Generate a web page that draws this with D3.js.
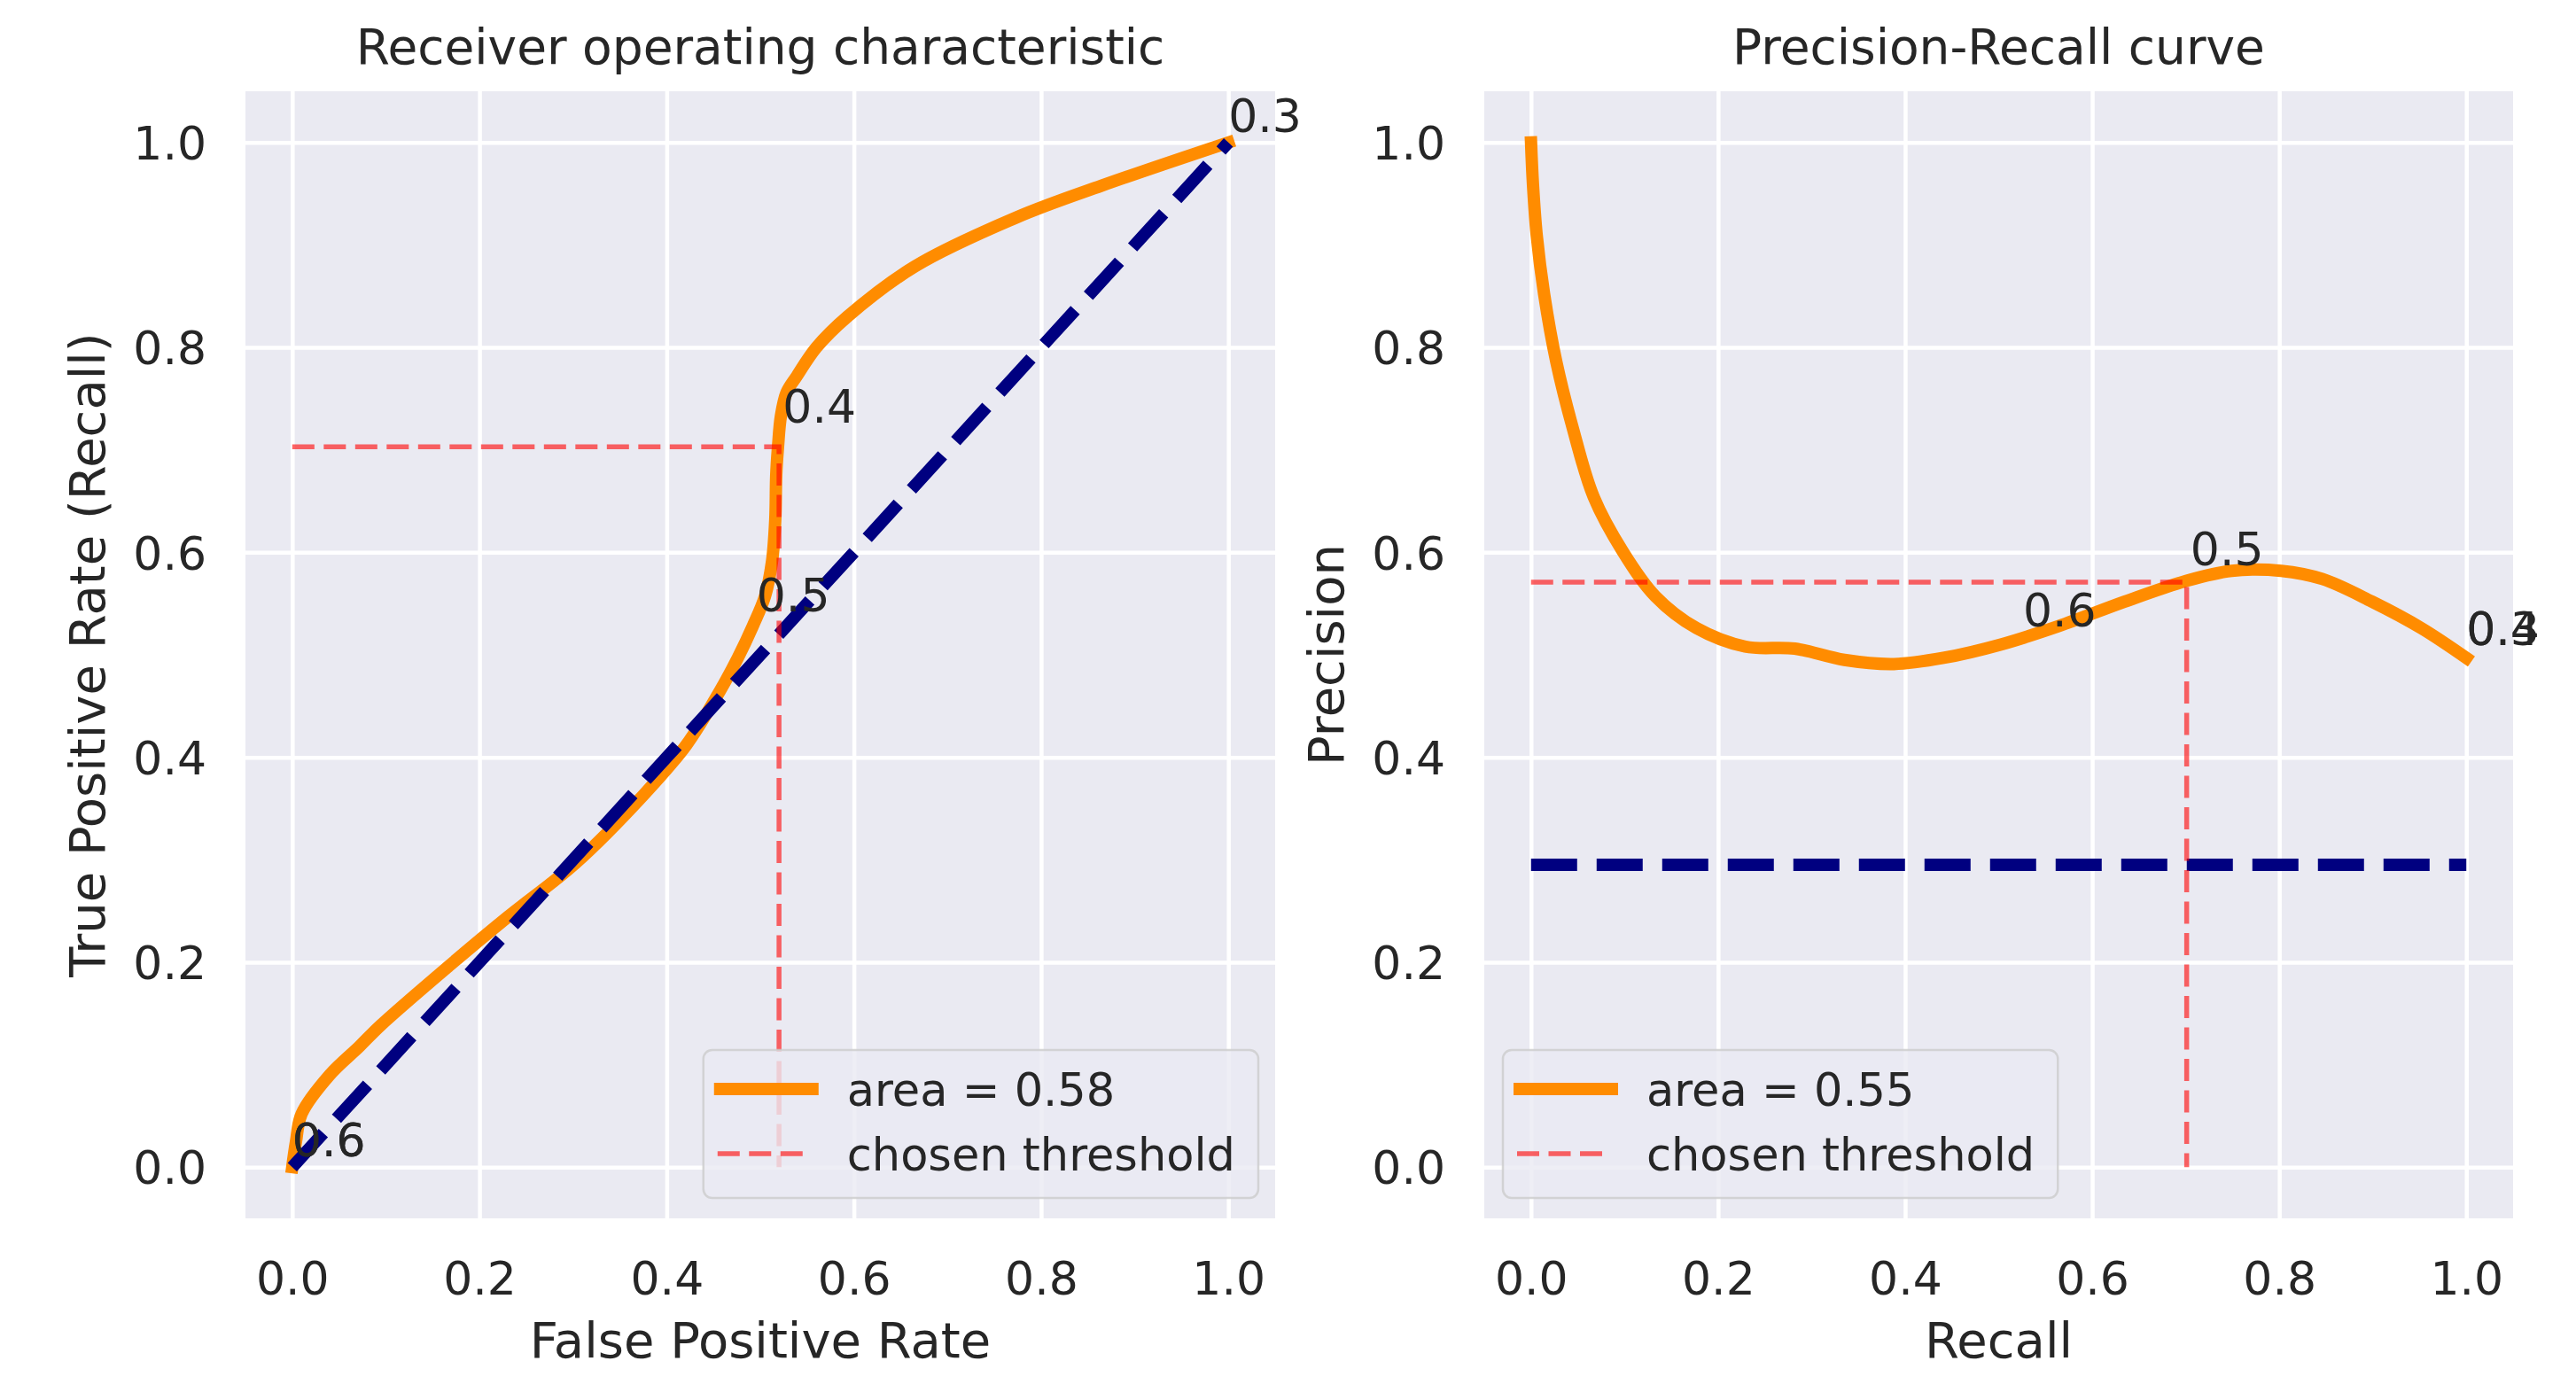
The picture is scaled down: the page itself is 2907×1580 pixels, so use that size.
<!DOCTYPE html>
<html>
<head>
<meta charset="utf-8">
<script src="https://cdn.jsdelivr.net/npm/d3@7"></script>
<style>
  body { margin: 0; background: #ffffff; }
  svg { display: block; }
  text { font-family: "DejaVu Sans", sans-serif; fill: #262626; }
</style>
</head>
<body>
<svg id="chart" width="2907" height="1580"></svg>
<script>
// ---------------- data ----------------
const tickValues = [0.0, 0.2, 0.4, 0.6, 0.8, 1.0];

// ROC curve (False Positive Rate, True Positive Rate)
const rocFpr = [0.000, 0.004, 0.010, 0.040, 0.072, 0.094, 0.167, 0.230, 0.303, 0.375, 0.421, 0.457, 0.476, 0.492, 0.505, 0.5125, 0.516, 0.517, 0.519, 0.522, 0.528, 0.539, 0.560, 0.593, 0.665, 0.774, 0.865, 1.000];
const rocTpr = [0.000, 0.025, 0.052, 0.090, 0.118, 0.138, 0.196, 0.244, 0.297, 0.363, 0.412, 0.465, 0.497, 0.528, 0.557, 0.591, 0.632, 0.675, 0.704, 0.733, 0.756, 0.772, 0.800, 0.830, 0.879, 0.927, 0.958, 1.000];

// Precision-Recall curve
const prRecall    = [0.000, 0.002, 0.006, 0.014, 0.027, 0.045, 0.067, 0.098, 0.133, 0.177, 0.229, 0.282, 0.335, 0.388, 0.441, 0.502, 0.564, 0.635, 0.700, 0.749, 0.802, 0.846, 0.899, 0.952, 1.000];
const prPrecision = [1.000, 0.960, 0.910, 0.852, 0.786, 0.720, 0.654, 0.601, 0.557, 0.526, 0.508, 0.506, 0.495, 0.491, 0.497, 0.510, 0.528, 0.552, 0.572, 0.582, 0.582, 0.574, 0.552, 0.526, 0.497];

// no-skill reference lines
const rocChanceX = [0, 1];
const rocChanceY = [0, 1];
const prChanceX = [0, 1];
const prChanceY = [0.295, 0.295];

// chosen threshold guide lines
const rocThreshX = [0, 0.52, 0.52];
const rocThreshY = [0.703, 0.703, 0];
const prThreshX = [0, 0.701, 0.701];
const prThreshY = [0.571, 0.571, 0];

// threshold annotations
const rocLabelText = ["0.3", "0.4", "0.5", "0.6", "0.6"];
const rocLabelX = [1.0, 0.524, 0.496, 0.0, 0.0];
const rocLabelY = [1.0, 0.716, 0.532, 0.0, 0.0];
const prLabelText = ["0.6", "0.5", "0.4", "0.3"];
const prLabelX = [0.526, 0.705, 1.0, 1.0];
const prLabelY = [0.517, 0.577, 0.499, 0.499];

// legend / titles
const rocArea = "area = 0.58";
const prArea = "area = 0.55";
const threshLabel = "chosen threshold";

// ---------------- drawing ----------------
const svg = d3.select("#chart");
const TICK_FS = 52, LABEL_FS = 56, TITLE_FS = 55, ANN_FS = 52, LEG_FS = 51;
const zip = (xs, ys) => xs.map((x, i) => [x, ys[i]]);

function panel(opt) {
  const x = d3.scaleLinear().domain([-0.05, 1.05]).range([opt.left, opt.right]);
  const y = d3.scaleLinear().domain([-0.05, 1.05]).range([1375, 103]);
  const g = svg.append("g");
  const top = 103, bottom = 1375;

  g.append("rect").attr("x", opt.left).attr("y", top)
    .attr("width", opt.right - opt.left).attr("height", bottom - top)
    .attr("fill", "#EAEAF2");

  // grid
  const gx = g.append("g").attr("transform", `translate(0,${bottom})`)
    .call(d3.axisBottom(x).tickValues(tickValues).tickSize(-(bottom - top)).tickFormat(""));
  const gy = g.append("g").attr("transform", `translate(${opt.left},0)`)
    .call(d3.axisLeft(y).tickValues(tickValues).tickSize(-(opt.right - opt.left)).tickFormat(""));
  [gx, gy].forEach(a => {
    a.select(".domain").remove();
    a.selectAll("line").attr("stroke", "#ffffff").attr("stroke-width", 4.5);
  });

  // tick labels
  const ax = g.append("g").attr("transform", `translate(0,${bottom})`)
    .call(d3.axisBottom(x).tickValues(tickValues).tickSize(0).tickFormat(d3.format(".1f")));
  ax.select(".domain").remove();
  ax.selectAll("text").attr("y", 86).attr("dy", null)
    .attr("font-size", TICK_FS).attr("font-family", "DejaVu Sans").attr("fill", "#262626");
  const ay = g.append("g").attr("transform", `translate(${opt.left},0)`)
    .call(d3.axisLeft(y).tickValues(tickValues).tickSize(0).tickFormat(d3.format(".1f")));
  ay.select(".domain").remove();
  ay.selectAll("text").attr("x", -44).attr("dy", "0.36em")
    .attr("font-size", TICK_FS).attr("font-family", "DejaVu Sans").attr("fill", "#262626");

  // axis labels and title
  const cx = (opt.left + opt.right) / 2;
  g.append("text").attr("x", cx).attr("y", 1532).attr("text-anchor", "middle")
    .attr("font-size", LABEL_FS).text(opt.xlabel);
  g.append("text").attr("transform", `translate(${opt.left - 159},${(top + bottom) / 2}) rotate(-90)`)
    .attr("text-anchor", "middle").attr("font-size", LABEL_FS).text(opt.ylabel);
  g.append("text").attr("x", cx).attr("y", 72).attr("text-anchor", "middle")
    .attr("font-size", TITLE_FS).text(opt.title);

  const line = d3.line().x(d => x(d[0])).y(d => y(d[1]));
  const curve = d3.line().x(d => x(d[0])).y(d => y(d[1])).curve(d3.curveCatmullRom.alpha(0.5));

  g.append("path").attr("d", curve(zip(opt.cx, opt.cy)))
    .attr("fill", "none").attr("stroke", "#FF8C00").attr("stroke-width", 14)
    .attr("stroke-linecap", "square").attr("stroke-linejoin", "round");
  g.append("path").attr("d", line(zip(opt.nx, opt.ny)))
    .attr("fill", "none").attr("stroke", "#000080").attr("stroke-width", 14)
    .attr("stroke-dasharray", "52,22");
  g.append("path").attr("d", line(zip(opt.tx, opt.ty)))
    .attr("fill", "none").attr("stroke", "#ff0000").attr("stroke-opacity", 0.6)
    .attr("stroke-width", 5.5).attr("stroke-dasharray", "25,10.5");

  opt.lt.forEach((t, i) => {
    g.append("text").attr("x", x(opt.lx[i])).attr("y", y(opt.ly[i]) - 12)
      .attr("font-size", ANN_FS).text(t);
  });

  // legend
  const lg = g.append("g");
  const frame = lg.append("rect");
  const t1 = lg.append("text").attr("font-size", LEG_FS).text(opt.area);
  const t2 = lg.append("text").attr("font-size", LEG_FS).text(threshLabel);
  const tw = Math.max(t1.node().getComputedTextLength(), t2.node().getComputedTextLength());
  const fw = 162 + tw + 26, fh = 167;
  const fl = opt.legendRight ? opt.right - 19 - fw : opt.left + 21;
  const ft = bottom - 23 - fh;
  frame.attr("x", fl).attr("y", ft).attr("width", fw).attr("height", fh)
    .attr("rx", 10).attr("ry", 10)
    .attr("fill", "#EAEAF2").attr("fill-opacity", 0.8)
    .attr("stroke", "#cccccc").attr("stroke-opacity", 0.8).attr("stroke-width", 2.5);
  const r1 = ft + 44, r2 = ft + 117;
  lg.insert("line", "text").attr("x1", fl + 19).attr("x2", fl + 123).attr("y1", r1).attr("y2", r1)
    .attr("stroke", "#FF8C00").attr("stroke-width", 14).attr("stroke-linecap", "square");
  lg.insert("line", "text").attr("x1", fl + 16).attr("x2", fl + 120).attr("y1", r2).attr("y2", r2)
    .attr("stroke", "#ff0000").attr("stroke-opacity", 0.6).attr("stroke-width", 5.5)
    .attr("stroke-dasharray", "25,10.5");
  t1.attr("x", fl + 162).attr("y", r1 + 19);
  t2.attr("x", fl + 162).attr("y", r2 + 19);
}

panel({
  left: 277, right: 1439,
  title: "Receiver operating characteristic",
  xlabel: "False Positive Rate", ylabel: "True Positive Rate (Recall)",
  cx: rocFpr, cy: rocTpr, nx: rocChanceX, ny: rocChanceY,
  tx: rocThreshX, ty: rocThreshY,
  lt: rocLabelText, lx: rocLabelX, ly: rocLabelY,
  area: rocArea, legendRight: true
});
panel({
  left: 1675, right: 2836,
  title: "Precision-Recall curve",
  xlabel: "Recall", ylabel: "Precision",
  cx: prRecall, cy: prPrecision, nx: prChanceX, ny: prChanceY,
  tx: prThreshX, ty: prThreshY,
  lt: prLabelText, lx: prLabelX, ly: prLabelY,
  area: prArea, legendRight: false
});
</script>
</body>
</html>
